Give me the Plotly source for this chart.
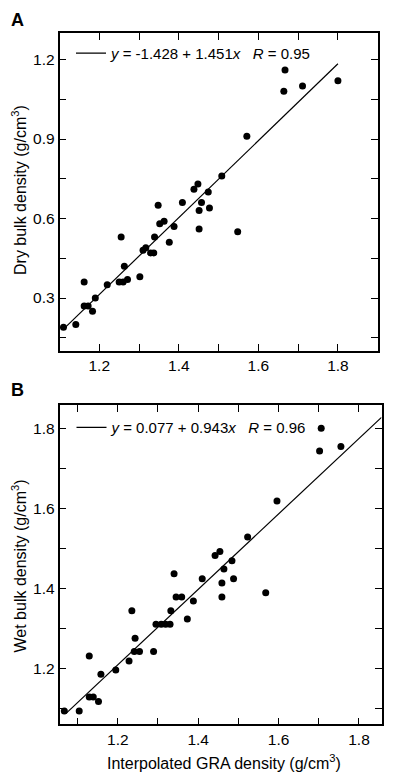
import plotly.graph_objects as go

# ---- Panel A data: Interpolated GRA density vs dry bulk density ----
gra_a = [1.110, 1.141, 1.162, 1.162, 1.172, 1.183, 1.190, 1.220, 1.255, 1.250,
         1.260, 1.263, 1.271, 1.302, 1.310, 1.317, 1.329, 1.337, 1.339, 1.348,
         1.352, 1.363, 1.376, 1.388, 1.409, 1.438, 1.448, 1.451, 1.451, 1.457,
         1.474, 1.477, 1.548, 1.508, 1.571, 1.664, 1.667, 1.711, 1.800]
dry_bulk = [0.19, 0.20, 0.36, 0.27, 0.27, 0.25, 0.30, 0.35, 0.53, 0.36,
            0.36, 0.42, 0.37, 0.38, 0.48, 0.49, 0.47, 0.47, 0.53, 0.65,
            0.58, 0.59, 0.51, 0.57, 0.66, 0.71, 0.73, 0.63, 0.56, 0.66,
            0.70, 0.64, 0.55, 0.76, 0.91, 1.08, 1.16, 1.10, 1.12]
fit_a_intercept, fit_a_slope, fit_a_r = -1.428, 1.451, 0.95
fit_a_xrange = [1.11, 1.80]

# ---- Panel B data: Interpolated GRA density vs wet bulk density ----
gra_b = [1.067, 1.104, 1.129, 1.129, 1.139, 1.152, 1.158, 1.195, 1.228, 1.235,
         1.243, 1.241, 1.254, 1.289, 1.295, 1.308, 1.319, 1.330, 1.332, 1.345,
         1.359, 1.373, 1.388, 1.459, 1.459, 1.568, 1.340, 1.410, 1.442, 1.454,
         1.464, 1.484, 1.488, 1.523, 1.596, 1.702, 1.706, 1.755]
wet_bulk = [1.093, 1.093, 1.231, 1.128, 1.128, 1.117, 1.185, 1.196, 1.218, 1.344,
            1.275, 1.242, 1.242, 1.242, 1.310, 1.310, 1.310, 1.310, 1.344, 1.378,
            1.378, 1.323, 1.368, 1.378, 1.413, 1.389, 1.436, 1.424, 1.482, 1.492,
            1.448, 1.469, 1.424, 1.528, 1.618, 1.743, 1.800, 1.754]
fit_b_intercept, fit_b_slope, fit_b_r = 0.077, 0.943, 0.96
fit_b_xrange = [1.072, 1.856]

title_a_y = "Dry bulk density (g/cm<sup>3</sup>)"
title_b_y = "Wet bulk density (g/cm<sup>3</sup>)"
title_b_x = "Interpolated GRA density (g/cm<sup>3</sup>)"

W, H = 395, 779
FONT = "Liberation Sans, Arial, Helvetica, sans-serif"
NB = "\u00a0"


def fit_y(xs, a, b):
    return [a + b * x for x in xs]


def label(a, b, r):
    sign = "-" if a < 0 else ""
    return (f"<i>y</i>{NB}={NB}{sign}{abs(a):.3f}{NB}+{NB}{b:.3f}<i>x</i>"
            f"{NB*3}<i>R</i>{NB}={NB}{r:.2f}")


fig = go.Figure()
fig.add_trace(go.Scatter(x=gra_a, y=dry_bulk, mode="markers",
                         marker=dict(color="black", size=7), showlegend=False,
                         xaxis="x", yaxis="y"))
fig.add_trace(go.Scatter(x=fit_a_xrange, y=fit_y(fit_a_xrange, fit_a_intercept, fit_a_slope),
                         mode="lines", line=dict(color="black", width=1.2),
                         name=label(fit_a_intercept, fit_a_slope, fit_a_r),
                         legend="legend", xaxis="x", yaxis="y"))
fig.add_trace(go.Scatter(x=gra_b, y=wet_bulk, mode="markers",
                         marker=dict(color="black", size=7), showlegend=False,
                         xaxis="x2", yaxis="y2"))
fig.add_trace(go.Scatter(x=fit_b_xrange, y=fit_y(fit_b_xrange, fit_b_intercept, fit_b_slope),
                         mode="lines", line=dict(color="black", width=1.2),
                         name=label(fit_b_intercept, fit_b_slope, fit_b_r),
                         legend="legend2", xaxis="x2", yaxis="y2"))


def axis(domain, rng, dtick, tick0, minor):
    return dict(domain=domain, range=rng, dtick=dtick, tick0=tick0, tickformat=".1f",
                ticks="inside", ticklen=7, tickwidth=1, tickcolor="black",
                minor=dict(dtick=minor, ticks="inside", ticklen=7, tickwidth=1,
                           tickcolor="black"),
                showline=True, linecolor="black", linewidth=1.5, mirror="ticks",
                showgrid=False, zeroline=False,
                tickfont=dict(family=FONT, size=15.5, color="black"))


xa = axis([59.5 / W, 377.7 / W], [1.1, 1.9], 0.2, 1.2, 0.1)
ya = axis([1 - 351 / H, 1 - 33 / H], [0.1, 1.3], 0.3, 0.3, 0.15)
xb = axis([59.5 / W, 381.5 / W], [1.055, 1.856], 0.2, 1.2, 0.1)
yb = axis([1 - 724.3 / H, 1 - 405 / H], [1.06, 1.858], 0.2, 1.2, 0.1)
xa["anchor"] = "y"
ya["anchor"] = "x"
xb["anchor"] = "y2"
yb["anchor"] = "x2"

leg = dict(bgcolor="rgba(0,0,0,0)", borderwidth=0, font=dict(family=FONT, size=15, color="black"),
           xanchor="left", yanchor="middle", itemwidth=30, tracegroupgap=0)

tfont = dict(family=FONT, size=16, color="black")
fig.update_layout(
    width=W, height=H, autosize=False,
    margin=dict(l=0, r=0, t=0, b=0, autoexpand=False),
    paper_bgcolor="white", plot_bgcolor="white",
    font=dict(family=FONT, color="black"),
    xaxis=xa, yaxis=ya, xaxis2=xb, yaxis2=yb,
    legend=dict(leg, x=71 / W, y=1 - 53.3 / H),
    legend2=dict(leg, x=71.5 / W, y=1 - 427.7 / H),
    annotations=[
        dict(text="<b>A</b>", x=17 / W, y=1 - 20.5 / H, xref="paper", yref="paper",
             xanchor="center", yanchor="middle", showarrow=False,
             font=dict(family=FONT, size=18, color="black")),
        dict(text="<b>B</b>", x=17 / W, y=1 - 389.5 / H, xref="paper", yref="paper",
             xanchor="center", yanchor="middle", showarrow=False,
             font=dict(family=FONT, size=18, color="black")),
        dict(text=title_a_y, x=19.5 / W, y=1 - 190.5 / H, xref="paper", yref="paper",
             textangle=-90, xanchor="center", yanchor="middle", showarrow=False, font=tfont),
        dict(text=title_b_y, x=19.5 / W, y=1 - 566 / H, xref="paper", yref="paper",
             textangle=-90, xanchor="center", yanchor="middle", showarrow=False, font=tfont),
        dict(text=title_b_x, x=224 / W, y=1 - 761.7 / H, xref="paper", yref="paper",
             xanchor="center", yanchor="middle", showarrow=False, font=tfont),
    ],
)

fig.write_html("out.html", config={"displayModeBar": False},
               post_script="document.body.style.margin='0';")
